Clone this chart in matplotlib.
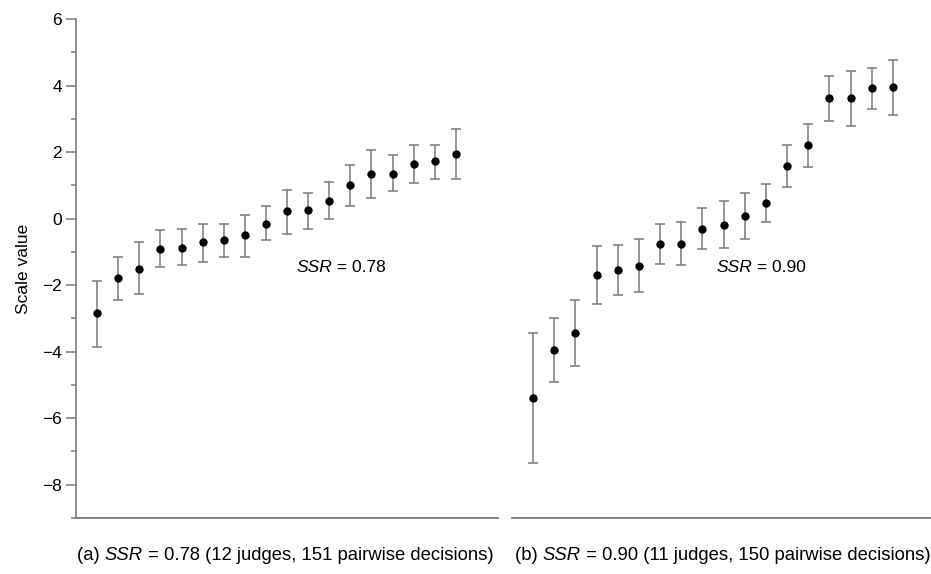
import matplotlib
matplotlib.use("Agg")
import matplotlib.pyplot as plt
import numpy as np

# panel (a): 18 objects, scale value with upper / lower error limits
a_vals = [-2.85, -1.80, -1.50, -0.90, -0.87, -0.70, -0.65, -0.50, -0.15,
          0.22, 0.25, 0.52, 1.00, 1.35, 1.35, 1.65, 1.72, 1.95]
a_top = [-1.88, -1.15, -0.70, -0.35, -0.30, -0.15, -0.15, 0.10, 0.38,
         0.85, 0.78, 1.10, 1.62, 2.05, 1.90, 2.20, 2.20, 2.70]
a_bot = [-3.85, -2.45, -2.28, -1.45, -1.40, -1.30, -1.15, -1.15, -0.65,
         -0.45, -0.30, -0.02, 0.38, 0.62, 0.82, 1.08, 1.20, 1.18]

# panel (b)
b_vals = [-5.40, -3.95, -3.45, -1.70, -1.55, -1.42, -0.75, -0.75, -0.30,
          -0.20, 0.08, 0.47, 1.58, 2.20, 3.62, 3.62, 3.92, 3.95]
b_top = [-3.45, -3.00, -2.45, -0.82, -0.78, -0.62, -0.15, -0.10, 0.32,
         0.52, 0.78, 1.05, 2.20, 2.85, 4.30, 4.45, 4.52, 4.78]
b_bot = [-7.35, -4.90, -4.42, -2.58, -2.30, -2.20, -1.35, -1.40, -0.90,
         -0.88, -0.62, -0.10, 0.95, 1.55, 2.92, 2.78, 3.30, 3.10]

a_label = ["(a) ", "SSR", " = 0.78 (12 judges, 151 pairwise decisions)"]
b_label = ["(b) ", "SSR", " = 0.90 (11 judges, 150 pairwise decisions)"]

FONT = "Liberation Sans"
GREY = "#7a7a7a"
plt.rcParams["font.family"] = [FONT, "DejaVu Sans"]


def draw_panel(ax, vals, top, bot):
    x = np.arange(1, len(vals) + 1)
    vals = np.array(vals)
    yerr = [vals - np.array(bot), np.array(top) - vals]
    ax.errorbar(x, vals, yerr=yerr, fmt="o", color="black", ms=5,
                ecolor=GREY, elinewidth=1.1, capsize=3.5, capthick=1.1)
    ax.set_ylim(-9, 6)
    for s in ["top", "right"]:
        ax.spines[s].set_visible(False)
    ax.spines["bottom"].set_color(GREY)
    ax.spines["bottom"].set_linewidth(1.3)
    ax.set_xticks([])


fig = plt.figure(figsize=(9.31, 5.74), dpi=100)
ax1 = fig.add_axes([76 / 931, 56 / 574, 422 / 931, 499 / 574])
ax2 = fig.add_axes([512 / 931, 56 / 574, 419 / 931, 499 / 574])

draw_panel(ax1, a_vals, a_top, a_bot)
ax1.set_xlim(0, 20)
ax1.spines["left"].set_color(GREY)
ax1.spines["left"].set_linewidth(1.2)
ax1.set_yticks(np.arange(-8, 7, 2))
ax1.set_yticks(np.arange(-9, 6, 2), minor=True)
ax1.tick_params(axis="y", which="major", length=7, width=1.1, color=GREY,
                labelsize=12.5, pad=3)
ax1.tick_params(axis="y", which="minor", length=3.5, width=1.1, color=GREY)
ax1.set_ylabel("Scale value", fontsize=12.5, labelpad=8)

draw_panel(ax2, b_vals, b_top, b_bot)
ax2.set_xlim(0, 19.8)
ax2.spines["left"].set_visible(False)
ax2.set_yticks([])

# SSR notes inside the panels
for ax, xs, note in [(ax1, 10.45, "0.78"), (ax2, 9.67, "0.90")]:
    t = ax.text(xs, -1.47, "SSR", fontsize=12.5, style="italic",
                ha="left", va="center")
    ax.annotate(" = " + note, xy=(1, 0), xycoords=t, va="bottom", ha="left",
                fontsize=12.5)

# captions under the panels
for x0, pieces in [(77 / 931, a_label), (515 / 931, b_label)]:
    t = fig.text(x0, 1 - 556 / 574, pieces[0], fontsize=13.3, va="center")
    for i, p in enumerate(pieces[1:]):
        t = ax1.annotate(p, xy=(1, 0), xycoords=t, va="bottom", ha="left",
                         fontsize=13.3, style="italic" if i == 0 else "normal",
                         annotation_clip=False)

fig.savefig("out.png", dpi=100)
